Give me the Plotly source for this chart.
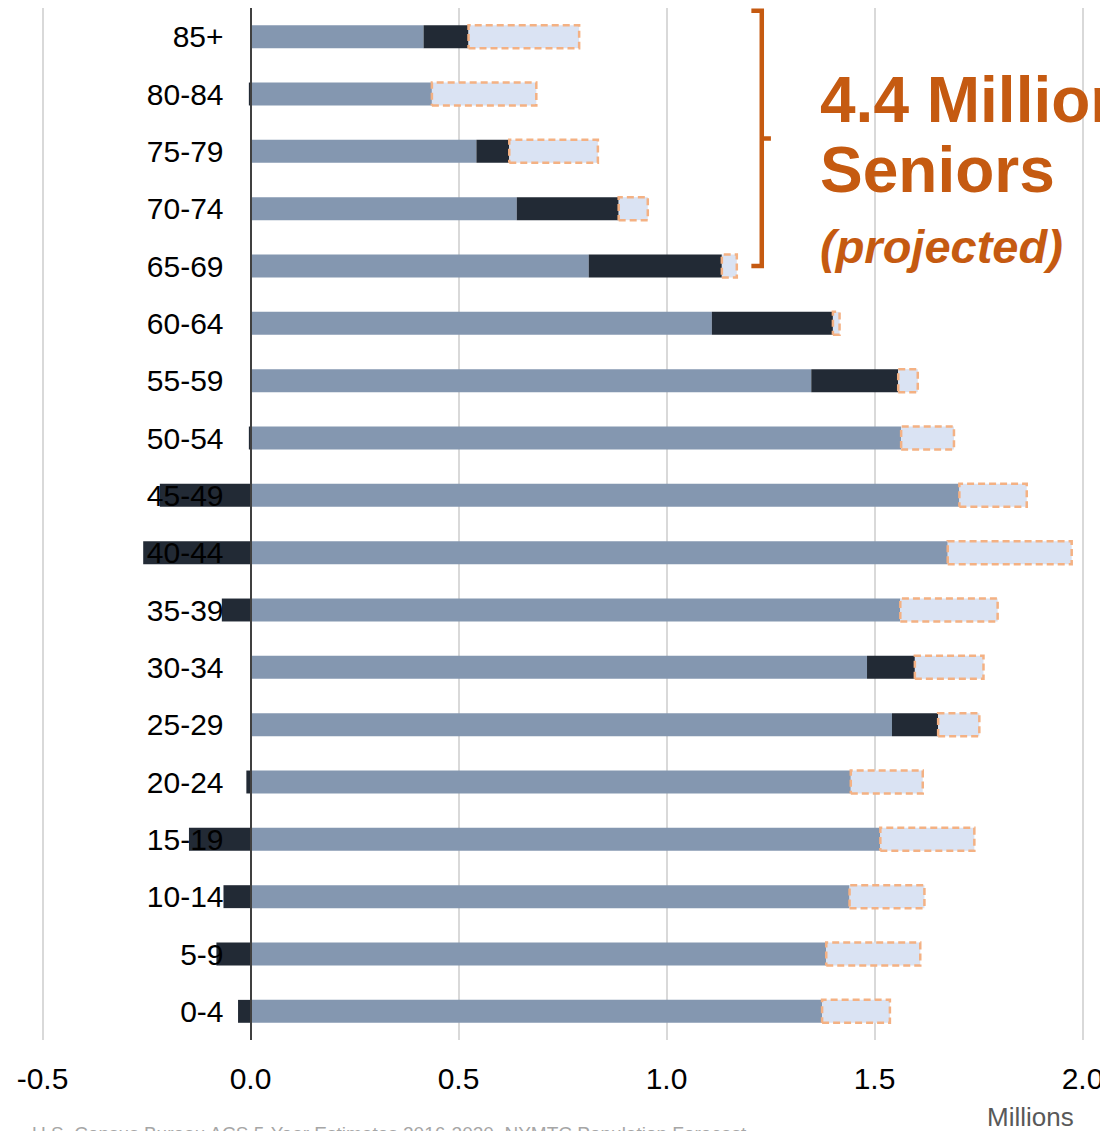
import plotly.graph_objects as go

# ---- data (millions) ----
ages = ["0-4", "5-9", "10-14", "15-19", "20-24", "25-29", "30-34", "35-39", "40-44",
        "45-49", "50-54", "55-59", "60-64", "65-69", "70-74", "75-79", "80-84", "85+"]
base = [1.374, 1.384, 1.440, 1.514, 1.443, 1.542, 1.482, 1.562, 1.676,
        1.704, 1.564, 1.348, 1.109, 0.813, 0.640, 0.543, 0.436, 0.416]
change = [-0.030, -0.082, -0.065, -0.148, -0.010, 0.111, 0.115, -0.069, -0.258,
          -0.218, -0.004, 0.209, 0.291, 0.320, 0.245, 0.079, -0.004, 0.108]
projected = [0.163, 0.226, 0.180, 0.226, 0.173, 0.099, 0.165, 0.234, 0.298,
             0.162, 0.127, 0.047, 0.016, 0.036, 0.070, 0.213, 0.251, 0.266]
x_ticks = [-0.5, 0.0, 0.5, 1.0, 1.5, 2.0]
senior_groups = ["65-69", "70-74", "75-79", "80-84", "85+"]

# ---- styles ----
C_BASE = "#8497B0"
C_CHANGE = "#222A35"
C_PROJ = "#DAE3F3"
C_PROJ_LINE = "#F4B183"
C_ORANGE = "#C55A11"
FONT = "Liberation Sans, Arial, sans-serif"

OFF = 8  # page body margin
W, H = 1100, 1123
M_T, M_B = 0, 91
X_RANGE = [-0.583, 2.0613]
BAR_W = 0.4

ypos = list(range(len(ages)))

fig = go.Figure()
fig.add_trace(go.Bar(y=ypos, x=base, orientation="h", marker=dict(color=C_BASE, line=dict(width=0)),
                     name="base", width=BAR_W))
fig.add_trace(go.Bar(y=ypos, x=change, orientation="h", marker=dict(color=C_CHANGE, line=dict(width=0)),
                     name="change", width=BAR_W))
fig.add_trace(go.Bar(y=ypos, x=projected, orientation="h", marker=dict(color=C_PROJ, line=dict(width=0)),
                     name="projected", width=BAR_W))

# dashed outline around projected segments
ox, oy = [], []
for i, (b, c, p) in enumerate(zip(base, change, projected)):
    x0 = b + max(c, 0)
    x1 = x0 + p
    y0, y1 = i - BAR_W / 2, i + BAR_W / 2
    ox += [x0, x1, x1, x0, x0, None]
    oy += [y0, y0, y1, y1, y0, None]
fig.add_trace(go.Scatter(x=ox, y=oy, mode="lines", line=dict(color=C_PROJ_LINE, width=2.5, dash="7px,4px"),
                         hoverinfo="skip", showlegend=False))

# bracket for seniors
idx = [ages.index(a) for a in senior_groups]
tops = [base[i] + max(change[i], 0) + projected[i] for i in idx]
xb = max(tops) + 0.06
yb0 = min(idx)
yb1 = max(idx) + 0.45
ym = (yb0 + yb1) / 2
path = (f"M {xb-0.025},{yb1} L {xb},{yb1} L {xb},{yb0} L {xb-0.025},{yb0} "
        f"M {xb},{ym} L {xb+0.022},{ym}")
fig.add_shape(type="path", path=path, xref="x", yref="y",
              line=dict(color=C_ORANGE, width=4.5))

def py(p):
    return (H - M_B - (p - OFF)) / (H - M_T - M_B)

def px(p):
    return (p - OFF) / W

ann = []
ann.append(dict(text="<b>4.4 Million</b>", x=px(818), y=py(100), xref="paper", yref="paper",
                xanchor="left", yanchor="middle", showarrow=False,
                font=dict(family=FONT, size=64, color=C_ORANGE)))
ann.append(dict(text="<b>Seniors</b>", x=px(818), y=py(170), xref="paper", yref="paper",
                xanchor="left", yanchor="middle", showarrow=False,
                font=dict(family=FONT, size=64, color=C_ORANGE)))
ann.append(dict(text="<b><i>(projected)</i></b>", x=px(818), y=py(247), xref="paper", yref="paper",
                xanchor="left", yanchor="middle", showarrow=False,
                font=dict(family=FONT, size=47, color=C_ORANGE)))
ann.append(dict(text="Millions", x=px(1030), y=py(1117), xref="paper", yref="paper",
                xanchor="center", yanchor="middle", showarrow=False,
                font=dict(family=FONT, size=26, color="#595959")))
ann.append(dict(text="U.S. Census Bureau ACS 5-Year Estimates 2016-2020, NYMTC Population Forecast",
                x=px(30), y=py(1121), xref="paper", yref="paper",
                xanchor="left", yanchor="top", showarrow=False,
                font=dict(family=FONT, size=19, color="#A6A6A6")))

y_axis_pos = (0 - X_RANGE[0]) / (X_RANGE[1] - X_RANGE[0])

fig.update_layout(
    width=W, height=H,
    margin=dict(l=0, r=0, t=M_T, b=M_B),
    barmode="relative",
    plot_bgcolor="white", paper_bgcolor="white",
    showlegend=False,
    font=dict(family=FONT, size=30, color="black"),
    annotations=ann,
    xaxis=dict(range=X_RANGE, tickvals=x_ticks, ticktext=[f"{v:.1f}" for v in x_ticks],
               showgrid=True, gridcolor="#D9D9D9", gridwidth=2, zeroline=False,
               showline=False, ticks="", ticklabelstandoff=18,
               tickfont=dict(family=FONT, size=30, color="black")),
    yaxis=dict(range=[-0.5, len(ages) - 0.5], tickvals=ypos, ticktext=ages,
               anchor="free", position=y_axis_pos, showgrid=False, zeroline=False,
               showline=True, linecolor="#404040", linewidth=2, ticks="",
               ticklabelstandoff=20,
               tickfont=dict(family=FONT, size=30, color="black")),
)

fig.write_html("out.html")
